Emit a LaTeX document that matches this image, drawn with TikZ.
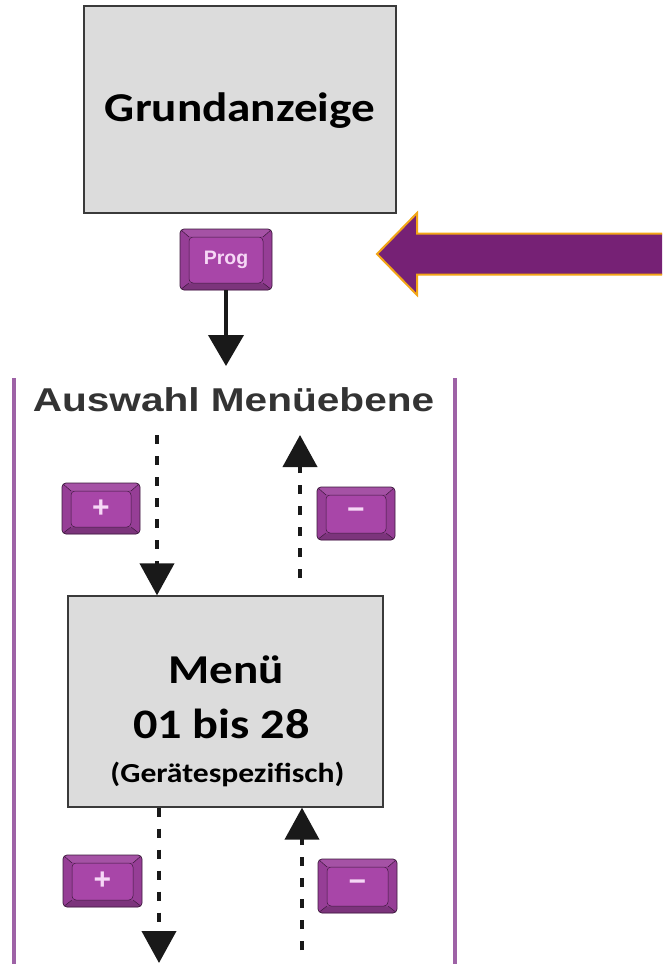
\documentclass[tikz,border=0pt]{standalone}
\usepackage{fontspec}
\usetikzlibrary{arrows.meta,calc}
\newfontfamily\calfont[FakeStretch=1.15]{Carlito}
\newfontfamily\arialfont[FakeStretch=1.23]{Liberation Sans}
\newfontfamily\keyfont{Liberation Sans}
\definecolor{boxfill}{HTML}{DCDCDC}
\definecolor{boxline}{HTML}{3A3A3A}
\definecolor{keyout}{HTML}{963E96}
\definecolor{keytop}{HTML}{A552A5}
\definecolor{keybot}{HTML}{7C347C}
\definecolor{keyin}{HTML}{A846A8}
\definecolor{keyedge}{HTML}{3C1A3C}
\definecolor{keytext}{HTML}{F6D8F6}
\definecolor{bigarrow}{HTML}{762175}
\definecolor{bigedge}{HTML}{F2A516}
\definecolor{sideline}{HTML}{9E62A6}
\definecolor{headtext}{HTML}{333333}
\tikzset{
  dispbox/.style={draw=boxline, line width=1.3pt, fill=boxfill, inner sep=0pt},
  keybtn/.style={draw=keyedge, line width=0.7pt, fill=keyout, rounded corners=4pt,
    inner sep=0pt, text=keytext, font=\keyfont\bfseries,
    path picture={
      \coordinate (kNW) at (path picture bounding box.north west);
      \coordinate (kNE) at (path picture bounding box.north east);
      \coordinate (kSW) at (path picture bounding box.south west);
      \coordinate (kSE) at (path picture bounding box.south east);
      \coordinate (iNW) at ($(kNW)+(9pt,-8pt)$);
      \coordinate (iNE) at ($(kNE)+(-9pt,-8pt)$);
      \coordinate (iSW) at ($(kSW)+(9pt,7pt)$);
      \coordinate (iSE) at ($(kSE)+(-9pt,7pt)$);
      \fill[keytop] (kNW) -- (kNE) -- (iNE) -- (iNW) -- cycle;
      \fill[keybot] (kSW) -- (kSE) -- (iSE) -- (iSW) -- cycle;
      \fill[keyin] (iNW) rectangle (iSE);
      \draw[keyedge, line width=0.5pt] (kNW) -- (iNW) (kNE) -- (iNE) (kSW) -- (iSW) (kSE) -- (iSE) (iNW) rectangle (iSE);
    }},
  symfont/.style={font=\keyfont\bfseries\fontsize{30}{30}\selectfont},
  solidarrow/.style={line width=4pt, black!90, -{Triangle[length=31pt,width=35pt]}},
  dasharrow/.style={line width=4pt, black!90, dash pattern=on 9pt off 12pt, -{Triangle[length=32pt,width=34pt]}},
  sidebar/.style={line width=4pt, sideline}
}
\begin{document}
\begin{tikzpicture}[x=1pt,y=1pt]
\useasboundingbox (0,0) rectangle (662,-964);
\clip (0,0) rectangle (662,-964);
\fill[white] (0,0) rectangle (662,-964);

% display boxes
\node[dispbox, minimum width=312pt, minimum height=207pt] (grund) at (240,-109.5) {};
\node[anchor=base, font=\calfont\bfseries\fontsize{41}{41}\selectfont] (grundtxt) at (240,-121) {Grundanzeige};

\node[dispbox, minimum width=315pt, minimum height=211pt] (menu) at (225.5,-701.5) {};
\node[anchor=base, font=\calfont\bfseries\fontsize{41}{41}\selectfont] (menutxt) at (226,-683) {Menü};
\node[anchor=base, font=\calfont\bfseries\fontsize{42}{42}\selectfont] (rangetxt) at (221.5,-738) {01 bis 28};
\node[anchor=base, font=\calfont\bfseries\fontsize{27.5}{27.5}\selectfont] (spectxt) at (227.5,-782) {(Gerätespezifisch)};

% big pointer arrow
\filldraw[fill=bigarrow, draw=bigedge, line width=2pt, line join=miter]
  (680,-233.5) -- (417,-233.5) -- (417,-213) -- (377,-254) -- (417,-295) -- (417,-274.5) -- (680,-274.5) -- cycle;

% keys
\node[keybtn, minimum width=92pt, minimum height=61pt, font=\keyfont\bfseries\fontsize{19.5}{19.5}\selectfont] (prog) at (226,-259.5) {Prog};
\node[keybtn, minimum width=78pt, minimum height=51pt, symfont] (plus1) at (101,-508.5) {+};
\node[keybtn, minimum width=78pt, minimum height=53pt, symfont] (minus1) at (356,-513.5) {−};
\node[keybtn, minimum width=79pt, minimum height=52pt, symfont] (plus2) at (102.5,-881) {+};
\node[keybtn, minimum width=79pt, minimum height=54pt, symfont] (minus2) at (357.5,-886) {−};

% heading
\node[anchor=base, text=headtext, font=\arialfont\bfseries\fontsize{33}{33}\selectfont] (auswahl) at (233.5,-411) {Auswahl Menüebene};

% side bars
\coordinate (lbtop) at (14,-378);
\coordinate (lbbot) at (14,-970);
\coordinate (rbtop) at (455,-378);
\coordinate (rbbot) at (455,-970);
\draw[sidebar] (lbtop) -- (lbbot);
\draw[sidebar] (rbtop) -- (rbbot);

% connectors
\coordinate (progend) at (226,-366);
\draw[solidarrow] (prog.south) -- (progend);

\coordinate (d1s) at (157,-435);
\draw[dasharrow] (d1s) -- (d1s |- menu.north);
\coordinate (u1s) at (300,-578);
\coordinate (u1e) at (300,-435);
\draw[dasharrow] (u1s) -- (u1e);

\coordinate (d2x) at (159,0);
\coordinate (d2e) at (159,-963);
\draw[dasharrow] (d2x |- menu.south) -- (d2e);
\coordinate (u2s) at (302,-950);
\draw[dasharrow] (u2s) -- (u2s |- menu.south);
\end{tikzpicture}
\end{document}
